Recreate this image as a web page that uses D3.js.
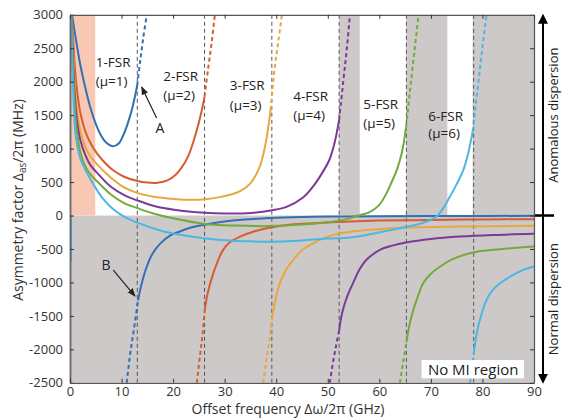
<!DOCTYPE html>
<html>
<head>
<meta charset="utf-8">
<script src="https://cdn.jsdelivr.net/npm/d3@7"></script>
<style>
  body { margin: 0; background: #fff; }
  text { font-family: "Open Sans", "DejaVu Sans", sans-serif; }
</style>
</head>
<body>
<div id="chart"></div>
<script>
// FSR positions (GHz)
var fsrLines = [13.05, 26.1, 39.15, 52.2, 65.25, 78.3];
var fsrNames = ["1-FSR", "2-FSR", "3-FSR", "4-FSR", "5-FSR", "6-FSR"];
var muNames = ["(\u03bc=1)", "(\u03bc=2)", "(\u03bc=3)", "(\u03bc=4)", "(\u03bc=5)", "(\u03bc=6)"];
var xTicks = [0, 10, 20, 30, 40, 50, 60, 70, 80, 90];
var yTicks = [-2500, -2000, -1500, -1000, -500, 0, 500, 1000, 1500, 2000, 2500, 3000];

// shaded regions [x0, x1]
var pinkBand = [[0, 4.9]];
var grayBands = [[52.2, 56.2], [65.2, 73.2], [78.1, 90]];

// upper branches (solid) and their dashed continuation
var mu1Upper = [[0.4,3000],[0.7,2850],[1,2700],[1.5,2470],[2,2250],[3,1900],[4,1600],[5,1370],[6,1200],[7,1090],[8.4,1035],[9.5,1080],[10.5,1230],[11.3,1400],[12.1,1610],[13.05,1950]];
var mu1UpperDash = [[13.05,1950],[13.6,2300],[14.2,2650],[14.9,3000]];
var mu2Upper = [[0.35,3000],[0.6,2650],[1,2150],[1.5,1780],[2,1540],[3,1250],[4,1080],[5.3,920],[7,770],[8.5,670],[10.5,580],[13.1,515],[15,492],[17,490],[19,530],[20.5,610],[21.5,700],[23,900],[24.5,1250],[25.5,1550],[26.1,1780]];
var mu2UpperDash = [[26.1,1780],[26.8,2200],[27.5,2600],[28.1,3000]];
var mu3Upper = [[0.3,3000],[0.55,2550],[0.9,2000],[1.4,1560],[2,1270],[3,1020],[4,880],[5.3,760],[8,560],[10.5,420],[13.1,335],[16,285],[20.2,248],[24,235],[26.2,245],[29,275],[31,310],[33,365],[35,480],[36.8,730],[38,1100],[38.9,1580]];
var mu3UpperDash = [[38.9,1580],[39.7,2200],[40.4,2600],[41.1,3000]];
var mu4Upper = [[0.28,3000],[0.5,2500],[0.85,1900],[1.3,1450],[2,1130],[3,900],[4,750],[5.3,634],[8,425],[10.5,305],[13.1,224],[16.5,140],[20.2,88],[26.2,42],[30,32],[34.3,34],[39.2,80],[42,130],[45.2,270],[47.2,440],[49.1,660],[50.3,830],[51.3,1080],[52.2,1430]];
var mu4UpperDash = [[52.2,1430],[53,2000],[53.7,2500],[54.3,3000]];
var mu5Upper = [[0.25,3000],[0.45,2450],[0.8,1800],[1.2,1350],[2,950],[3,730],[4,610],[5.3,508],[8,310],[10.5,185],[13.1,110],[16,35],[20.2,-45],[26.1,-125],[32,-150],[38.8,-158],[45,-135],[51.7,-85],[54.3,-40],[56.2,5],[58.2,55],[60,160],[61.4,335],[62.5,520],[63.4,683],[64.4,950],[65.2,1330]];
var mu5UpperDash = [[65.2,1330],[66,1900],[66.8,2450],[67.6,3000]];
var mu6Upper = [[0.22,3000],[0.4,2400],[0.7,1700],[1.1,1200],[2,850],[3,680],[4,540],[5,410],[6.3,260],[8.5,85],[10.5,-15],[13.7,-125],[18.2,-239],[22,-295],[26,-338],[30,-368],[35,-385],[40.7,-389],[45,-372],[49.8,-345],[54.3,-330],[57.5,-290],[60.8,-239],[64,-190],[67.2,-139],[69.5,-80],[71.1,-15],[72.5,120],[73.7,284],[75,470],[76.3,683],[77.3,950],[78.1,1256]];
var mu6UpperDash = [[78.1,1256],[79,1850],[79.9,2450],[80.8,3000]];
var mu6Edge = [[0.2,0],[0.2,-690]];

// lower branches (solid) and their dashed start
var mu1Lower = [[13.2,-1270],[13.8,-1050],[14.9,-762],[16,-570],[17.5,-420],[19.4,-300],[21.3,-239],[23,-190],[25.2,-150],[28,-110],[32,-72],[38.8,-38],[45,-22],[51.7,-15],[60,-10],[75,-6],[90,-5]];
var mu1LowerDash = [[11.0,-2500],[11.7,-2050],[12.4,-1700],[13.2,-1270]];
var mu2Lower = [[26.1,-1440],[26.6,-1200],[27.8,-861],[29.7,-513],[31,-400],[33,-314],[36,-230],[39.2,-174],[43,-135],[47.2,-114],[54.3,-88],[60.1,-76],[70,-66],[80,-59],[90,-55]];
var mu2LowerDash = [[24.6,-2500],[25.2,-2100],[25.7,-1780],[26.1,-1440]];
var mu3Lower = [[39.15,-1560],[39.6,-1350],[40.7,-1011],[42,-800],[43.3,-662],[45,-520],[47.2,-413],[49.5,-330],[52.4,-264],[56.2,-226],[60.1,-204],[65.3,-180],[75,-165],[90,-154]];
var mu3LowerDash = [[37.5,-2500],[38.1,-2150],[38.7,-1850],[39.15,-1560]];
var mu4Lower = [[52.2,-1720],[52.8,-1450],[53.8,-1200],[54.9,-1011],[56.2,-800],[57.5,-662],[60.1,-513],[62.5,-450],[65.2,-403],[70,-350],[75.6,-314],[82,-290],[90,-274]];
var mu4LowerDash = [[50.4,-2500],[51,-2200],[51.6,-1950],[52.2,-1720]];
var mu5Lower = [[65.25,-1895],[65.8,-1650],[66.6,-1410],[67.5,-1200],[68.5,-1011],[70,-870],[71.8,-762],[74,-660],[78.1,-553],[83.4,-503],[90,-463]];
var mu5LowerDash = [[64,-2500],[64.6,-2200],[65.25,-1895]];
var mu6Lower = [[78.3,-2075],[78.8,-1800],[79.5,-1560],[80.8,-1260],[82,-1110],[83.4,-1011],[85,-930],[86.6,-861],[88,-810],[90,-762]];
var mu6LowerDash = [[77.6,-2500],[77.9,-2300],[78.3,-2075]];

var colors = ["#3170b4", "#d65c33", "#e8a640", "#7b3a95", "#73aa3c", "#4cb6e4"];

var series = [
  {c: 0, solid: [mu1Upper, mu1Lower], dash: [mu1UpperDash, mu1LowerDash]},
  {c: 1, solid: [mu2Upper, mu2Lower], dash: [mu2UpperDash, mu2LowerDash]},
  {c: 2, solid: [mu3Upper, mu3Lower], dash: [mu3UpperDash, mu3LowerDash]},
  {c: 3, solid: [mu4Upper, mu4Lower], dash: [mu4UpperDash, mu4LowerDash]},
  {c: 4, solid: [mu5Upper, mu5Lower], dash: [mu5UpperDash, mu5LowerDash]},
  {c: 5, solid: [mu6Upper, mu6Lower, mu6Edge], dash: [mu6UpperDash, mu6LowerDash]}
];

// label positions in data units
var fsrLabelAt = [[5.0,2215,1935],[18.1,2010,1730],[31.0,1876,1577],[43.3,1711,1428],[56.9,1587,1308],[69.5,1412,1160]];

var svgW = 563, svgH = 418;
var pLeft = 70, pRight = 534, pTop = 14.8, pBottom = 382.8;

var x = d3.scaleLinear().domain([0, 90]).range([pLeft, pRight]);
var y = d3.scaleLinear().domain([-2500, 3000]).range([pBottom, pTop]);

var svg = d3.select("#chart").append("svg")
  .attr("width", svgW)
  .attr("height", svgH);

svg.append("defs").append("clipPath").attr("id", "plotclip")
  .append("rect")
  .attr("x", pLeft).attr("y", pTop)
  .attr("width", pRight - pLeft).attr("height", pBottom - pTop);

var plot = svg.append("g").attr("clip-path", "url(#plotclip)");

// normal dispersion area
plot.append("rect")
  .attr("x", x(0)).attr("y", y(0))
  .attr("width", x(90) - x(0)).attr("height", y(-2500) - y(0))
  .attr("fill", "#cdc9c9");

plot.selectAll(".gband").data(grayBands).enter().append("rect")
  .attr("x", function(d){ return x(d[0]); })
  .attr("y", y(3000))
  .attr("width", function(d){ return x(d[1]) - x(d[0]); })
  .attr("height", y(0) - y(3000))
  .attr("fill", "#cdc9c9");

plot.selectAll(".pband").data(pinkBand).enter().append("rect")
  .attr("x", function(d){ return x(d[0]); })
  .attr("y", y(3000))
  .attr("width", function(d){ return x(d[1]) - x(d[0]); })
  .attr("height", y(0) - y(3000))
  .attr("fill", "#f8c8b5");

// FSR vertical dashed lines
plot.selectAll(".fsr").data(fsrLines).enter().append("line")
  .attr("x1", function(d){ return x(d); })
  .attr("x2", function(d){ return x(d); })
  .attr("y1", y(3000)).attr("y2", y(-2500))
  .attr("stroke", "#555")
  .attr("stroke-width", 1)
  .attr("stroke-dasharray", "4,3");

var line = d3.line()
  .x(function(d){ return x(d[0]); })
  .y(function(d){ return y(d[1]); })
  .curve(d3.curveCatmullRom.alpha(0.5));
var lineStraight = d3.line()
  .x(function(d){ return x(d[0]); })
  .y(function(d){ return y(d[1]); });

series.forEach(function(s) {
  s.solid.forEach(function(pts) {
    plot.append("path")
      .attr("d", pts.length == 2 ? lineStraight(pts) : line(pts))
      .attr("fill", "none")
      .attr("stroke", colors[s.c])
      .attr("stroke-width", 2);
  });
  s.dash.forEach(function(pts) {
    plot.append("path")
      .attr("d", line(pts))
      .attr("fill", "none")
      .attr("stroke", colors[s.c])
      .attr("stroke-width", 2)
      .attr("stroke-dasharray", "4,3");
  });
});

// axes
var fmt = function(d){ return String(d); };
var yAxis = d3.axisLeft(y).tickValues(yTicks).tickFormat(fmt).tickSizeInner(-4).tickSizeOuter(0).tickPadding(7);
var xAxis = d3.axisBottom(x).tickValues(xTicks).tickFormat(fmt).tickSizeInner(-4).tickSizeOuter(0).tickPadding(4);

var gy = svg.append("g").attr("transform", "translate(" + pLeft + ",0)").call(yAxis);
var gx = svg.append("g").attr("transform", "translate(0," + pBottom + ")").call(xAxis);
svg.append("g").attr("transform", "translate(" + pRight + ",0)")
  .call(d3.axisRight(y).tickValues(yTicks).tickSizeInner(-4).tickSizeOuter(0).tickFormat(""));
svg.append("g").attr("transform", "translate(0," + pTop + ")")
  .call(d3.axisTop(x).tickValues(xTicks).tickSizeInner(-4).tickSizeOuter(0).tickFormat(""));

svg.selectAll(".domain").attr("stroke", "#555").attr("stroke-width", 1.2);
svg.selectAll(".tick line").attr("stroke", "#333");
[gx, gy].forEach(function(g) {
  g.selectAll("text")
    .attr("fill", "#333")
    .style("font-size", "13px")
    .style("font-family", "'Open Sans', sans-serif");
});
gy.select(".domain").attr("stroke", "#666").attr("stroke-width", 1.8);

// axis titles
svg.append("text")
  .attr("x", 288).attr("y", 414)
  .attr("text-anchor", "middle")
  .attr("fill", "#333")
  .style("font-size", "14px")
  .text("Offset frequency \u0394\u03c9/2\u03c0 (GHz)");

var yl = svg.append("text")
  .attr("transform", "translate(23,200) rotate(-90)")
  .attr("text-anchor", "middle")
  .attr("fill", "#333")
  .style("font-size", "14px");
yl.append("tspan").text("Asymmetry factor \u0394");
yl.append("tspan").attr("dy", 3).style("font-size", "10px").text("as");
yl.append("tspan").attr("dy", -3).text("/2\u03c0 (MHz)");

// FSR labels
fsrLabelAt.forEach(function(p, i) {
  svg.append("text")
    .attr("x", x(p[0])).attr("y", y(p[1]))
    .attr("fill", "#222").style("font-size", "13.5px")
    .text(fsrNames[i]);
  svg.append("text")
    .attr("x", x(p[0])).attr("y", y(p[2]))
    .attr("fill", "#222").style("font-size", "13.5px")
    .text(muNames[i]);
});

// arrows A and B
var defs = svg.select("defs");
defs.append("marker")
  .attr("id", "ah").attr("viewBox", "0 0 10 10")
  .attr("refX", 9).attr("refY", 5)
  .attr("markerWidth", 7).attr("markerHeight", 7)
  .attr("orient", "auto")
  .append("path").attr("d", "M0,1L10,5L0,9z").attr("fill", "#222");
defs.append("marker")
  .attr("id", "ah2").attr("viewBox", "0 0 10 10")
  .attr("refX", 8).attr("refY", 5)
  .attr("markerWidth", 5).attr("markerHeight", 5)
  .attr("orient", "auto-start-reverse")
  .append("path").attr("d", "M0,0L10,5L0,10z").attr("fill", "#000");

var pointers = [
  {t: "A", tx: 17.45, ty: 1233, from: [16.8, 1456], to: [13.9, 1920]},
  {t: "B", tx: 7.0, ty: -815, from: [8.4, -815], to: [12.6, -1203]}
];
pointers.forEach(function(p) {
  svg.append("text")
    .attr("x", x(p.tx)).attr("y", y(p.ty))
    .attr("text-anchor", "middle")
    .attr("fill", "#222").style("font-size", "14px")
    .text(p.t);
  svg.append("line")
    .attr("x1", x(p.from[0])).attr("y1", y(p.from[1]))
    .attr("x2", x(p.to[0])).attr("y2", y(p.to[1]))
    .attr("stroke", "#222").attr("stroke-width", 1.2)
    .attr("marker-end", "url(#ah)");
});

// No MI region box
svg.append("rect")
  .attr("x", x(68.2)).attr("y", y(-2160))
  .attr("width", x(88.05) - x(68.2)).attr("height", y(-2434) - y(-2160))
  .attr("fill", "#fff");
svg.append("text")
  .attr("x", x(78.2)).attr("y", y(-2385))
  .attr("text-anchor", "middle")
  .attr("fill", "#222").style("font-size", "15px")
  .text("No MI region");

// dispersion arrow on the right
var ax = 543;
svg.append("line")
  .attr("x1", ax).attr("x2", ax)
  .attr("y1", y(3000) + 1).attr("y2", y(-2500) - 1)
  .attr("stroke", "#000").attr("stroke-width", 2)
  .attr("marker-start", "url(#ah2)")
  .attr("marker-end", "url(#ah2)");
svg.append("line")
  .attr("x1", 535).attr("x2", 554)
  .attr("y1", y(0)).attr("y2", y(0))
  .attr("stroke", "#000").attr("stroke-width", 2.5);

svg.append("text")
  .attr("transform", "translate(555," + (y(3000) + y(0)) / 2 + ") rotate(-90)")
  .attr("text-anchor", "middle").attr("dominant-baseline", "middle")
  .attr("fill", "#222").style("font-size", "13px")
  .text("Anomalous dispersion");
svg.append("text")
  .attr("transform", "translate(555," + (y(0) + y(-2500)) / 2 + ") rotate(-90)")
  .attr("text-anchor", "middle").attr("dominant-baseline", "middle")
  .attr("fill", "#222").style("font-size", "13px")
  .text("Normal dispersion");
</script>
</body>
</html>
